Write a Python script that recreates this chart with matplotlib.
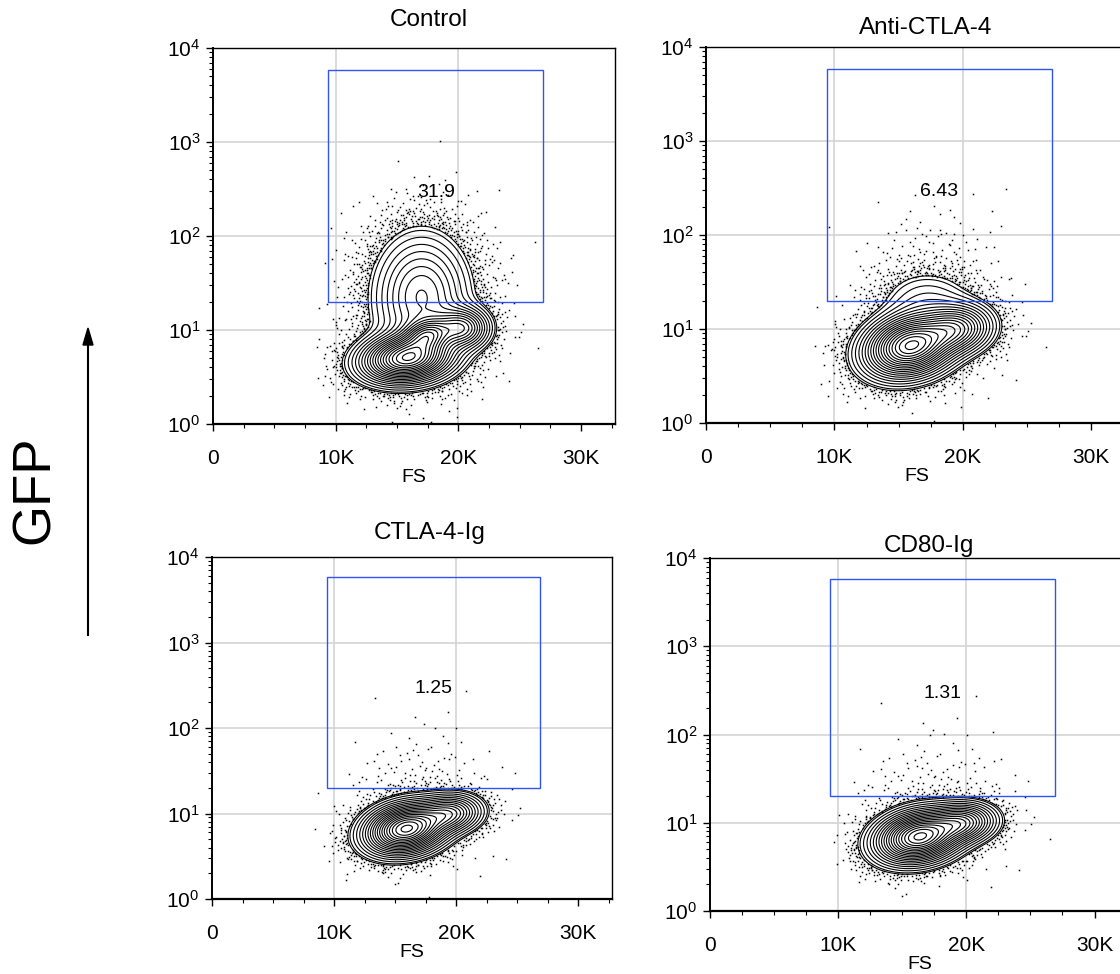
import numpy as np
import matplotlib.pyplot as plt
from matplotlib.ticker import LogLocator, LogFormatterMathtext, MultipleLocator, NullFormatter, FuncFormatter

plt.rcParams['font.family'] = ['Liberation Sans', 'DejaVu Sans']
plt.rcParams['mathtext.fontset'] = 'custom'
plt.rcParams['mathtext.rm'] = 'Liberation Sans'

# panels
titles = ["Control", "Anti-CTLA-4", "CTLA-4-Ig", "CD80-Ig"]
gate_pct = ["31.9", "6.43", "1.25", "1.31"]
gate_fs = [9.4e3, 26.9e3]
gate_gfp = [20, 5800]

# populations: FS centre (K), log10 GFP centre, spreads, tilt, weight
pop_fs = [[15.8, 17.5, 20.3, 17.0, 17.0],
          [15.9, 19.5, 17.2, 17.5],
          [15.9, 19.5, 17.0],
          [16.3, 19.7, 17.5]]
pop_gfp = [[0.70, 0.95, 1.02, 1.35, 1.30],
           [0.82, 1.00, 1.30, 1.30],
           [0.82, 1.00, 1.15],
           [0.84, 1.00, 1.20]]
pop_sd_fs = [[2.0, 1.1, 1.2, 2.0, 3.0],
             [1.9, 1.5, 2.0, 3.0],
             [1.8, 1.4, 3.0],
             [1.8, 1.4, 3.0]]
pop_sd_gfp = [[0.14, 0.10, 0.12, 0.35, 0.50],
              [0.18, 0.14, 0.18, 0.45],
              [0.16, 0.12, 0.40],
              [0.16, 0.12, 0.40]]
pop_rho = [[0.15, 0.2, 0.0, 0.0, 0.0],
           [0.2, 0.1, 0.0, 0.0],
           [0.2, 0.1, 0.0],
           [0.2, 0.1, 0.0]]
pop_w = [[1.0, 0.5, 0.45, 0.27, 0.02],
         [1.0, 0.45, 0.07, 0.008],
         [1.0, 0.4, 0.005],
         [1.0, 0.45, 0.005]]

# axes boxes in pixels: left, top, right, bottom
boxes = [(213, 48, 615, 424), (706, 47, 1127, 423),
         (212, 557, 612, 899), (710, 558, 1130, 911)]
title_xy = [(429, 20), (926, 28), (430, 533), (929, 546)]

W, H = 1120, 974
fig = plt.figure(figsize=(W / 100, H / 100), dpi=100)


def density(i, x, y):
    f = np.zeros_like(x)
    for mx, my, sx, sy, r, w in zip(pop_fs[i], pop_gfp[i], pop_sd_fs[i],
                                    pop_sd_gfp[i], pop_rho[i], pop_w[i]):
        u = (x - mx) / sx
        v = (y - my) / sy
        f += w * np.exp(-(u * u - 2 * r * u * v + v * v) / (2 * (1 - r * r)))
    return f


def halton(n, base):
    idx = np.arange(1, n + 1)
    out = np.zeros(n)
    f = 1.0
    while idx.any():
        f /= base
        out += f * (idx % base)
        idx //= base
    return out


xs = np.linspace(0, 32.768, 400)
ys = np.linspace(0, 4, 400)
XX, YY = np.meshgrid(xs, ys)

hx = 8 + 19 * halton(60000, 2)
hy = 3.2 * halton(60000, 3)
hu = halton(60000, 5)

for i in range(4):
    l, t, r, b = boxes[i]
    ax = fig.add_axes([l / W, 1 - b / H, (r - l) / W, (b - t) / H])
    ax.set_xlim(0, 32768)
    ax.set_yscale('log')
    ax.set_ylim(1, 1e4)

    ax.xaxis.set_major_locator(MultipleLocator(10000))
    ax.xaxis.set_minor_locator(MultipleLocator(2500))
    ax.xaxis.set_major_formatter(FuncFormatter(lambda v, p: "0" if v == 0 else "%dK" % (v / 1000)))
    ax.yaxis.set_major_locator(LogLocator(base=10, numticks=10))
    ax.yaxis.set_minor_locator(LogLocator(base=10, subs=np.arange(2, 10), numticks=10))
    ax.yaxis.set_major_formatter(LogFormatterMathtext())
    ax.yaxis.set_minor_formatter(NullFormatter())
    ax.tick_params(axis='x', which='major', length=5, width=1, labelsize=15, pad=13)
    ax.tick_params(axis='x', which='minor', length=3, width=0.8)
    ax.tick_params(axis='y', which='major', length=5, width=1, labelsize=15, pad=4)
    ax.tick_params(axis='y', which='minor', length=3, width=0.8)
    ax.grid(True, axis='y', which='major', color='#d4d4d4', lw=1.2, zorder=0)
    for g in (10000, 20000):
        ax.axvline(g, color='#d4d4d4', lw=1.2, zorder=0)
    for s in ax.spines.values():
        s.set_linewidth(1.0)
    ax.spines['bottom'].set_linewidth(1.6)
    ax.spines['left'].set_linewidth(1.4)

    Z = density(i, XX, YY)
    fmax = Z.max()
    L0 = 0.03 * fmax
    levels = L0 + (0.97 * fmax - L0) * np.linspace(0, 1, 20) ** 1.6
    ax.contour(XX * 1000, 10 ** YY, Z, levels=levels, colors='black', linewidths=0.8, zorder=3)

    # scattered events outside the outer contour
    fh = density(i, hx, hy)
    keep = (fh < L0) & (hu < 0.2 * (fh / L0))
    ax.plot(hx[keep] * 1000, 10 ** hy[keep], 's', color='black', ms=1.1, mew=0, zorder=3)

    ax.add_patch(plt.Rectangle((gate_fs[0], gate_gfp[0]), gate_fs[1] - gate_fs[0],
                               gate_gfp[1] - gate_gfp[0], fill=False,
                               edgecolor='#2f54f5', lw=1.0, zorder=4))
    ax.text((gate_fs[0] + gate_fs[1]) / 2, 10 ** 2.46, gate_pct[i], ha='center',
            va='center', fontsize=14, zorder=5)
    ax.text(0.5, -0.143 * 376 / (b - t), "FS", transform=ax.transAxes, ha='center',
            va='center', fontsize=14)

    tx, ty = title_xy[i]
    fig.text(tx / W, 1 - ty / H, titles[i], ha='center', va='center', fontsize=17.5)

fig.text(35 / W, 1 - 490 / H, "GFP", rotation=90, ha='center', va='center', fontsize=38)
fig.add_artist(plt.Line2D([88 / W, 88 / W], [1 - 635 / H, 1 - 345 / H], color='black', lw=1.5))
fig.patches.append(plt.Polygon([[83 / W, 1 - 345 / H], [93 / W, 1 - 345 / H], [88 / W, 1 - 328 / H]],
                               closed=True, color='black', transform=fig.transFigure, figure=fig))

fig.savefig('out.png', dpi=100)
